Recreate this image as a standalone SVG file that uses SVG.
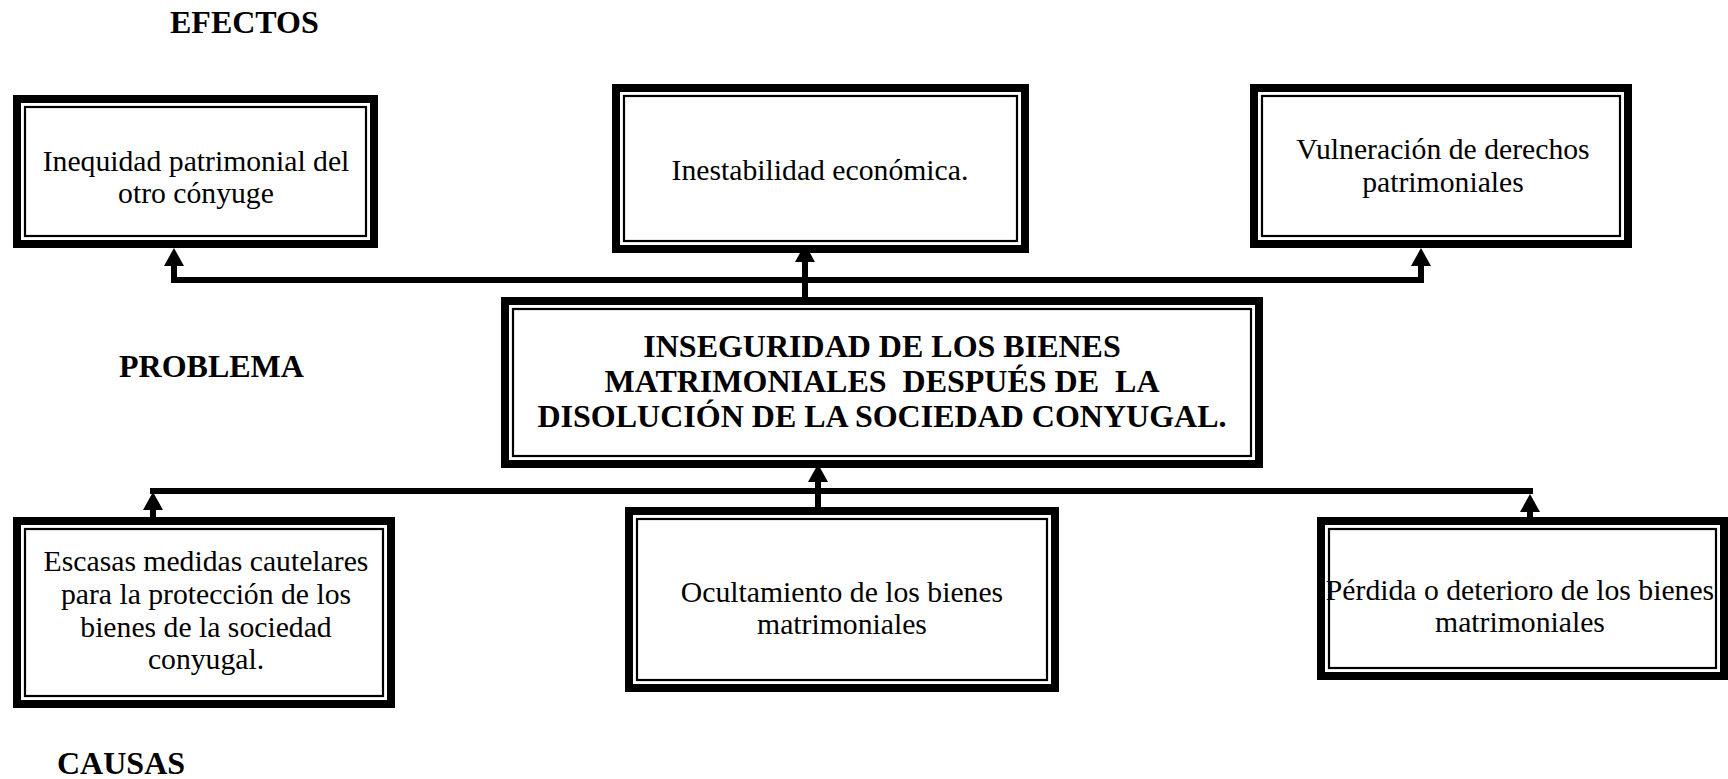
<svg xmlns="http://www.w3.org/2000/svg" width="1728" height="779" viewBox="0 0 1728 779">
<style>
.o{fill:#fff;stroke:#000;stroke-width:8}
.i{fill:none;stroke:#000;stroke-width:2.2}
.t{font-family:"Liberation Serif","Times New Roman",serif;font-size:29.7px;fill:#000;text-anchor:middle}
.b{font-family:"Liberation Serif","Times New Roman",serif;font-size:32px;font-weight:bold;fill:#000}
.c{fill:none;stroke:#000;stroke-width:6;stroke-linecap:butt}
</style>
<defs>
<marker id="ah" markerUnits="userSpaceOnUse" markerWidth="22" markerHeight="22" viewBox="0 -11 22 22" refX="1" refY="0" orient="auto" overflow="visible">
<path d="M0,-10 L18,0 L0,10 z" fill="#000"/>
</marker>
</defs>
<rect width="1728" height="779" fill="#fff"/>

<text class="b" x="170" y="33">EFECTOS</text>
<text class="b" x="119" y="377">PROBLEMA</text>
<text class="b" x="57" y="774">CAUSAS</text>

<g id="connectors">
<line class="c" x1="171" y1="280" x2="1424" y2="280"/>
<line class="c" x1="174" y1="283" x2="174" y2="265" marker-end="url(#ah)"/>
<line class="c" x1="1421" y1="283" x2="1421" y2="265" marker-end="url(#ah)"/>
<line class="c" x1="805" y1="299" x2="805" y2="261" marker-end="url(#ah)"/>
<line class="c" x1="150" y1="491" x2="1533" y2="491"/>
<line class="c" x1="153" y1="518" x2="153" y2="509" marker-end="url(#ah)"/>
<line class="c" x1="1530" y1="518" x2="1530" y2="511" marker-end="url(#ah)"/>
<line class="c" x1="818" y1="508" x2="818" y2="481" marker-end="url(#ah)"/>
</g>

<g id="efecto1">
<rect class="o" x="17" y="99" width="357" height="145"/>
<rect class="i" x="25" y="107" width="341" height="129"/>
<text class="t" x="196" y="171">Inequidad patrimonial del</text>
<text class="t" x="196" y="203">otro cónyuge</text>
</g>

<g id="efecto2">
<rect class="o" x="616" y="88" width="409" height="161"/>
<rect class="i" x="624" y="96" width="393" height="145"/>
<text class="t" x="820" y="180">Inestabilidad económica.</text>
</g>

<g id="efecto3">
<rect class="o" x="1254" y="88" width="374" height="156"/>
<rect class="i" x="1262" y="96" width="358" height="140"/>
<text class="t" x="1443" y="159">Vulneración de derechos</text>
<text class="t" x="1443" y="192">patrimoniales</text>
</g>

<g id="problema">
<rect class="o" x="505" y="301" width="754" height="163"/>
<rect class="i" x="513" y="309" width="738" height="147"/>
<text class="b" x="882" y="357" text-anchor="middle">INSEGURIDAD DE LOS BIENES</text>
<text class="b" x="882" y="392" text-anchor="middle" xml:space="preserve">MATRIMONIALES  DESPUÉS DE  LA</text>
<text class="b" x="882" y="427" text-anchor="middle">DISOLUCIÓN DE LA SOCIEDAD CONYUGAL.</text>
</g>

<g id="causa1">
<rect class="o" x="17" y="521" width="374" height="183"/>
<rect class="i" x="25" y="529" width="358" height="167"/>
<text class="t" x="206" y="571">Escasas medidas cautelares</text>
<text class="t" x="206" y="604">para la protección de los</text>
<text class="t" x="206" y="637">bienes de la sociedad</text>
<text class="t" x="206" y="669">conyugal.</text>
</g>

<g id="causa2">
<rect class="o" x="629" y="511" width="426" height="177"/>
<rect class="i" x="637" y="519" width="410" height="161"/>
<text class="t" x="842" y="602">Ocultamiento de los bienes</text>
<text class="t" x="842" y="634">matrimoniales</text>
</g>

<g id="causa3">
<rect class="o" x="1321" y="521" width="403" height="155"/>
<rect class="i" x="1329" y="529" width="387" height="139"/>
<text class="t" x="1520" y="600">Pérdida o deterioro de los bienes</text>
<text class="t" x="1520" y="632">matrimoniales</text>
</g>
</svg>
